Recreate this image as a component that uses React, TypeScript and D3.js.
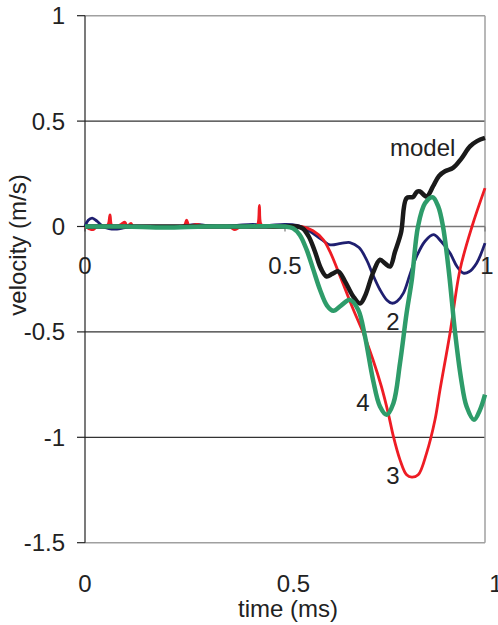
import React from 'react';
import * as d3 from 'd3';

// time (ms), velocity (m/s)
const series2: [number, number][] = [
    [0, 0], [0.008, 0.03], [0.018, 0.04], [0.03, 0.025], [0.045, 0.0], [0.06, -0.01], [0.08, -0.012],
    [0.1, -0.005], [0.13, 0.0], [0.16, 0.0], [0.2, 0.0], [0.24, 0.0], [0.28, 0.01], [0.3, 0.005],
    [0.34, 0.0], [0.38, 0.005], [0.42, 0.01], [0.45, 0.005], [0.5, 0.01], [0.53, 0.005], [0.56, -0.02],
    [0.59, -0.06], [0.6125, -0.087], [0.64, -0.08], [0.6625, -0.076], [0.685, -0.1], [0.704, -0.158],
    [0.72, -0.23], [0.7375, -0.3], [0.755, -0.35], [0.767, -0.364], [0.78, -0.355], [0.796, -0.316],
    [0.812, -0.23], [0.829, -0.142], [0.85, -0.07], [0.871, -0.039], [0.89, -0.07], [0.9125, -0.126],
    [0.93, -0.19], [0.946, -0.221], [0.96, -0.215], [0.979, -0.174], [1, -0.079],
];

const series3: [number, number][] = [
    [0, 0], [0.01, -0.01], [0.02, -0.015], [0.03, 0], [0.05, 0], [0.058, 0.01], [0.0625, 0.055],
    [0.067, 0.005], [0.08, 0], [0.09, 0.01], [0.1, 0.02], [0.105, 0], [0.115, 0.015], [0.12, 0],
    [0.16, 0], [0.2, 0], [0.248, 0.005], [0.254, 0.03], [0.26, 0.005], [0.28, 0.01], [0.3, 0],
    [0.36, 0], [0.375, -0.015], [0.39, 0], [0.425, 0], [0.432, 0.01], [0.436, 0.1], [0.44, 0.01],
    [0.45, 0], [0.47, -0.005], [0.5, 0], [0.54, 0], [0.57, -0.02], [0.596, -0.063], [0.615, -0.13],
    [0.6375, -0.235], [0.671, -0.395], [0.696, -0.506], [0.72, -0.632], [0.741, -0.759], [0.758, -0.885],
    [0.771, -0.996], [0.7875, -1.107], [0.804, -1.178], [0.817, -1.189], [0.833, -1.178], [0.854, -1.075],
    [0.875, -0.917], [0.8875, -0.775], [0.9125, -0.506], [0.9375, -0.205], [0.9675, 0], [1, 0.182],
];

const seriesModel: [number, number][] = [
    [0, 0], [0.1, 0], [0.2, 0], [0.3, 0], [0.4, 0], [0.5, 0], [0.53, 0], [0.545, -0.01], [0.56, -0.05],
    [0.575, -0.12], [0.59, -0.2], [0.604, -0.237], [0.618, -0.225], [0.633, -0.213], [0.65, -0.26],
    [0.67, -0.33], [0.6875, -0.365], [0.7, -0.33], [0.72, -0.22], [0.7375, -0.158], [0.75, -0.175],
    [0.7625, -0.19], [0.775, -0.12], [0.79, -0.03], [0.804, 0.135], [0.82, 0.14], [0.83, 0.165],
    [0.8375, 0.166], [0.854, 0.142], [0.87, 0.19], [0.885, 0.24], [0.9, 0.262], [0.92, 0.278],
    [0.94, 0.32], [0.9625, 0.38], [0.98, 0.405], [1, 0.42],
];

const series4: [number, number][] = [
    [0, 0], [0.1, 0], [0.2, -0.005], [0.3, 0], [0.4, 0], [0.5, 0], [0.52, -0.008], [0.537, -0.04],
    [0.554, -0.11], [0.57, -0.2], [0.5875, -0.3], [0.605, -0.375], [0.621, -0.4], [0.64, -0.375],
    [0.6625, -0.348], [0.683, -0.395], [0.7, -0.522], [0.72, -0.727], [0.7375, -0.854], [0.754, -0.893],
    [0.771, -0.838], [0.7875, -0.648], [0.804, -0.411], [0.817, -0.253], [0.8325, 0], [0.85, 0.11],
    [0.869, 0.139], [0.883, 0.095], [0.895, 0], [0.91, -0.22], [0.925, -0.5], [0.94, -0.72],
    [0.954, -0.854], [0.9725, -0.917], [0.9875, -0.87], [1, -0.798],
];

const yTicks = [1, 0.5, 0, -0.5, -1, -1.5];
const xTicks = [0, 0.5, 1];

const curveLabels = [
    { text: 'model', t: 0.7625, v: 0.335, anchor: 'start' },
    { text: '2', t: 0.77, v: -0.49, anchor: 'middle' },
    { text: '4', t: 0.695, v: -0.876, anchor: 'middle' },
    { text: '3', t: 0.77, v: -1.22, anchor: 'middle' },
];

const font = '"Liberation Sans", Arial, sans-serif';

export default function App() {
    const width = 498;
    const height = 625;
    const left = 85, right = 485, top = 15.7, bottom = 542.7;

    const x = d3.scaleLinear().domain([0, 1]).range([left, right]);
    const y = d3.scaleLinear().domain([-1.5, 1]).range([bottom, top]);
    // bottom tick row sits on a slightly wider scale
    const xBottom = d3.scaleLinear().domain([0, 1]).range([85, 496]);

    const line = d3.line<[number, number]>()
        .x(d => x(d[0]))
        .y(d => y(d[1]))
        .curve(d3.curveCatmullRom.alpha(0.5));

    return (
        <svg width={width} height={height} style={{ position: 'absolute', left: 0, top: 0, display: 'block', background: '#fff' }}
            fontFamily={font}>
            {/* gridlines */}
            {yTicks.filter(v => v !== 0 && v !== 1 && v !== -1.5).map(v => (
                <line key={'g' + v} x1={left} x2={right} y1={y(v)} y2={y(v)} stroke="#333" strokeWidth={1.2} />
            ))}
            {/* plot border */}
            <line x1={left} x2={right} y1={top} y2={top} stroke="#a0a0a0" strokeWidth={1.5} />
            <line x1={right} x2={right} y1={top} y2={bottom} stroke="#a0a0a0" strokeWidth={1.5} />
            <line x1={left} x2={right} y1={bottom} y2={bottom} stroke="#a0a0a0" strokeWidth={1.5} />
            {/* x axis at zero */}
            <line x1={left} x2={right} y1={y(0)} y2={y(0)} stroke="#777" strokeWidth={1.3} />
            {xTicks.map(t => (
                <line key={'xt' + t} x1={x(t)} x2={x(t)} y1={y(0)} y2={y(0) + 5} stroke="#777" strokeWidth={1.2} />
            ))}
            {/* y axis */}
            <line x1={left} x2={left} y1={top} y2={bottom} stroke="#222" strokeWidth={1.2} />
            {yTicks.map(v => (
                <line key={'yt' + v} x1={left - 8} x2={left} y1={y(v)} y2={y(v)} stroke="#222" strokeWidth={1.2} />
            ))}

            {/* series */}
            <path d={line(series2) || ''} fill="none" stroke="#1f1f70" strokeWidth={2.8} strokeLinejoin="round" />
            <path d={line(series3) || ''} fill="none" stroke="#ee1c24" strokeWidth={2.8} strokeLinejoin="round" />
            <path d={line(seriesModel) || ''} fill="none" stroke="#1a1a1a" strokeWidth={4.5} strokeLinejoin="round" />
            <path d={line(series4) || ''} fill="none" stroke="#2e9c6a" strokeWidth={4.5} strokeLinejoin="round" />

            {/* y tick labels */}
            {yTicks.map(v => (
                <text key={'yl' + v} x={65} y={y(v) + 8.5} textAnchor="end" fontSize={24} fill="#222">{v}</text>
            ))}
            {/* x tick labels on the zero line */}
            {xTicks.map(t => (
                <text key={'xl' + t} x={x(t) + (t === 1 ? 2 : 0)} y={y(0) + 47} textAnchor="middle" fontSize={24} fill="#222">{t}</text>
            ))}
            {/* x tick labels at bottom */}
            {xTicks.map(t => (
                <text key={'xb' + t} x={xBottom(t) + (t === 0.5 ? 3 : 0)} y={592} textAnchor="middle" fontSize={24} fill="#222">{t}</text>
            ))}

            {curveLabels.map(l => (
                <text key={l.text} x={x(l.t)} y={y(l.v)} textAnchor={l.anchor} fontSize={24} fill="#222">{l.text}</text>
            ))}

            <text x={288} y={617} textAnchor="middle" fontSize={24} fill="#222">time (ms)</text>
            <text transform="translate(26,245) rotate(-90)" textAnchor="middle" fontSize={24} fill="#222">velocity (m/s)</text>
        </svg>
    );
}
